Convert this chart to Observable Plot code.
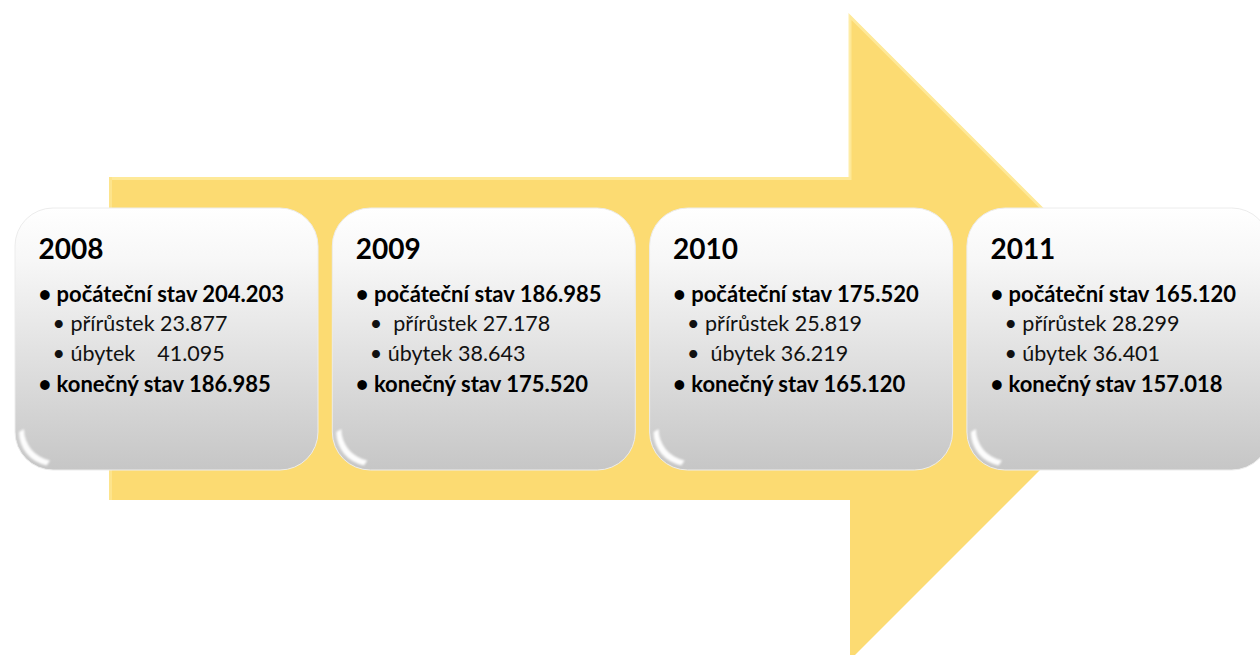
<!DOCTYPE html>
<html>
<head>
<meta charset="utf-8">
<script src="https://cdn.jsdelivr.net/npm/d3@7"></script>
<script src="https://cdn.jsdelivr.net/npm/@observablehq/plot@0.6"></script>
<style>
  html, body { margin: 0; padding: 0; background: #ffffff; }
  svg text { white-space: pre; }
</style>
</head>
<body>
<div id="chart"></div>
<script>
// ---- data ----
const years = ["2008", "2009", "2010", "2011"];
const startState = ["204.203", "186.985", "175.520", "165.120"];
const increase = ["23.877", "27.178", "25.819", "28.299"];
const decrease = ["41.095", "38.643", "36.219", "36.401"];
const endState = ["186.985", "175.520", "165.120", "157.018"];
// labels (with the spacing quirks of the original)
const startLabel = "• počáteční stav ";
const increaseLabels = ["• přírůstek ", "•  přírůstek ", "• přírůstek ", "• přírůstek "];
const decreaseLabels = ["• úbytek    ", "• úbytek ", "•  úbytek ", "• úbytek "];
const endLabel = "• konečný stav ";

// ---- layout ----
const W = 1260, H = 655;
const boxStep = 317.3, boxFirst = 15, boxW = 303, boxTop = 208, boxBottom = 470, boxR = 38;
const arrow = {left: 109, top: 177, bottom: 500, neck: 850, headTop: 15, headBottom: 660};
const mid = (arrow.headTop + arrow.headBottom) / 2;
arrow.tip = arrow.neck + (mid - arrow.headTop);
const arrowOutline = [
  [arrow.left, arrow.top], [arrow.neck, arrow.top], [arrow.neck, arrow.headTop], [arrow.tip, mid],
  [arrow.neck, arrow.headBottom], [arrow.neck, arrow.bottom], [arrow.left, arrow.bottom]
];

const boxes = years.map((y, i) => ({
  year: y, x1: boxFirst + i * boxStep, x2: boxFirst + i * boxStep + boxW, y1: boxTop, y2: boxBottom
}));
const titles = years.map((y, i) => ({text: y, x: boxes[i].x1 + 23, y: 258.5}));
const boldLines = [];
const normalLines = [];
years.forEach((y, i) => {
  const bx = boxes[i].x1;
  boldLines.push({text: startLabel + startState[i], x: bx + 23, y: 301});
  normalLines.push({text: increaseLabels[i] + increase[i], x: bx + 37, y: 330.5});
  normalLines.push({text: decreaseLabels[i] + decrease[i], x: bx + 37, y: 360.5});
  boldLines.push({text: endLabel + endState[i], x: bx + 23, y: 391});
});

const FONT = "Lato, 'Open Sans', sans-serif";
const NS = "http://www.w3.org/2000/svg";

// custom mark: the big yellow arrow, positioned through Plot's scales
function arrowMark(index, scales) {
  const {x, y} = scales;
  const g = document.createElementNS(NS, "g");
  g.setAttribute("aria-label", "arrow");
  const d = "M" + arrowOutline.map(([px, py]) => `${x(px)},${y(py)}`).join("L") + "Z";
  const body = document.createElementNS(NS, "path");
  body.setAttribute("d", d);
  body.setAttribute("fill", "#FCDB72");
  g.appendChild(body);
  // bevel highlight along the upper edges
  const hl = document.createElementNS(NS, "path");
  const top = arrowOutline.slice(0, 4);
  hl.setAttribute("d", "M" + top.map(([px, py]) => `${x(px)},${y(py) + 1.5}`).join("L"));
  hl.setAttribute("fill", "none");
  hl.setAttribute("stroke", "#FEEA9C");
  hl.setAttribute("stroke-width", 3);
  hl.setAttribute("opacity", 0.9);
  g.appendChild(hl);
  const left = document.createElementNS(NS, "path");
  left.setAttribute("d", `M${x(arrow.left) + 1.5},${y(arrow.top)}L${x(arrow.left) + 1.5},${y(arrow.bottom)}`);
  left.setAttribute("stroke", "#FDE48C");
  left.setAttribute("stroke-width", 3);
  g.appendChild(left);
  return g;
}

// custom mark: glossy crescent at the lower-left corner of each box
function glossMark(index, scales) {
  const {x, y} = scales;
  const g = document.createElementNS(NS, "g");
  g.setAttribute("aria-label", "gloss");
  g.setAttribute("filter", "url(#soft)");
  boxes.forEach(b => {
    const cx = x(b.x1) + boxR, cy = y(b.y2) - boxR;
    const r1 = boxR - 4, r2 = boxR - 6;
    const a0 = Math.PI * 1.0, a1 = Math.PI * 0.56;
    const pt = (r, a, ox = 0, oy = 0) => [cx + ox + r * Math.cos(a), cy + oy + r * Math.sin(a)];
    const o0 = pt(r1, a0), o1 = pt(r1, a1);
    const i0 = pt(r2, a0, 3, -3), i1 = pt(r2, a1, 3, -3);
    const p = document.createElementNS(NS, "path");
    p.setAttribute("d",
      `M${o0[0]},${o0[1]}A${r1},${r1} 0 0 0 ${o1[0]},${o1[1]}` +
      `L${i1[0]},${i1[1]}A${r2},${r2} 0 0 1 ${i0[0]},${i0[1]}Z`);
    p.setAttribute("fill", "#ffffff");
    p.setAttribute("opacity", 0.95);
    g.appendChild(p);
  });
  return g;
}

const chart = Plot.plot({
  width: W,
  height: H,
  margin: 0,
  x: {domain: [0, W], range: [0, W], axis: null},
  y: {domain: [0, H], range: [0, H], axis: null},
  style: {fontFamily: FONT, background: "#ffffff", overflow: "hidden"},
  marks: [
    arrowMark,
    Plot.rect(boxes, {x1: "x1", x2: "x2", y1: "y1", y2: "y2", rx: boxR, ry: boxR, fill: "url(#boxGrad)", stroke: "#ececec", strokeWidth: 1, ariaLabel: "boxes"}),
    glossMark,
    Plot.text(titles, {x: "x", y: "y", text: "text", fontSize: 28, fontWeight: "bold", fill: "#000000", textAnchor: "start", lineAnchor: "bottom", fontFamily: FONT}),
    Plot.text(boldLines, {x: "x", y: "y", text: "text", fontSize: 22, fontWeight: "bold", fill: "#000000", textAnchor: "start", lineAnchor: "bottom", fontFamily: FONT}),
    Plot.text(normalLines, {x: "x", y: "y", text: "text", fontSize: 21.5, fontWeight: "normal", fill: "#111111", textAnchor: "start", lineAnchor: "bottom", fontFamily: FONT})
  ]
});

// gradient + shadow definitions
const svg = d3.select(chart);
const defs = svg.insert("defs", ":first-child");
const grad = defs.append("linearGradient").attr("id", "boxGrad").attr("x1", 0).attr("y1", 0).attr("x2", 0).attr("y2", 1);
grad.append("stop").attr("offset", "0%").attr("stop-color", "#ffffff");
grad.append("stop").attr("offset", "20%").attr("stop-color", "#f7f7f7");
grad.append("stop").attr("offset", "100%").attr("stop-color", "#c6c6c6");
const f = defs.append("filter").attr("id", "shadow").attr("x", "-10%").attr("y", "-10%").attr("width", "120%").attr("height", "130%");
f.append("feDropShadow").attr("dx", 0).attr("dy", 4).attr("stdDeviation", 3).attr("flood-color", "#000").attr("flood-opacity", 0.35);
const soft = defs.append("filter").attr("id", "soft").attr("x", "-20%").attr("y", "-20%").attr("width", "140%").attr("height", "140%");
soft.append("feGaussianBlur").attr("stdDeviation", 1.3);
svg.select("g[aria-label=boxes]").attr("filter", "url(#shadow)");

document.getElementById("chart").appendChild(chart);
</script>
</body>
</html>
